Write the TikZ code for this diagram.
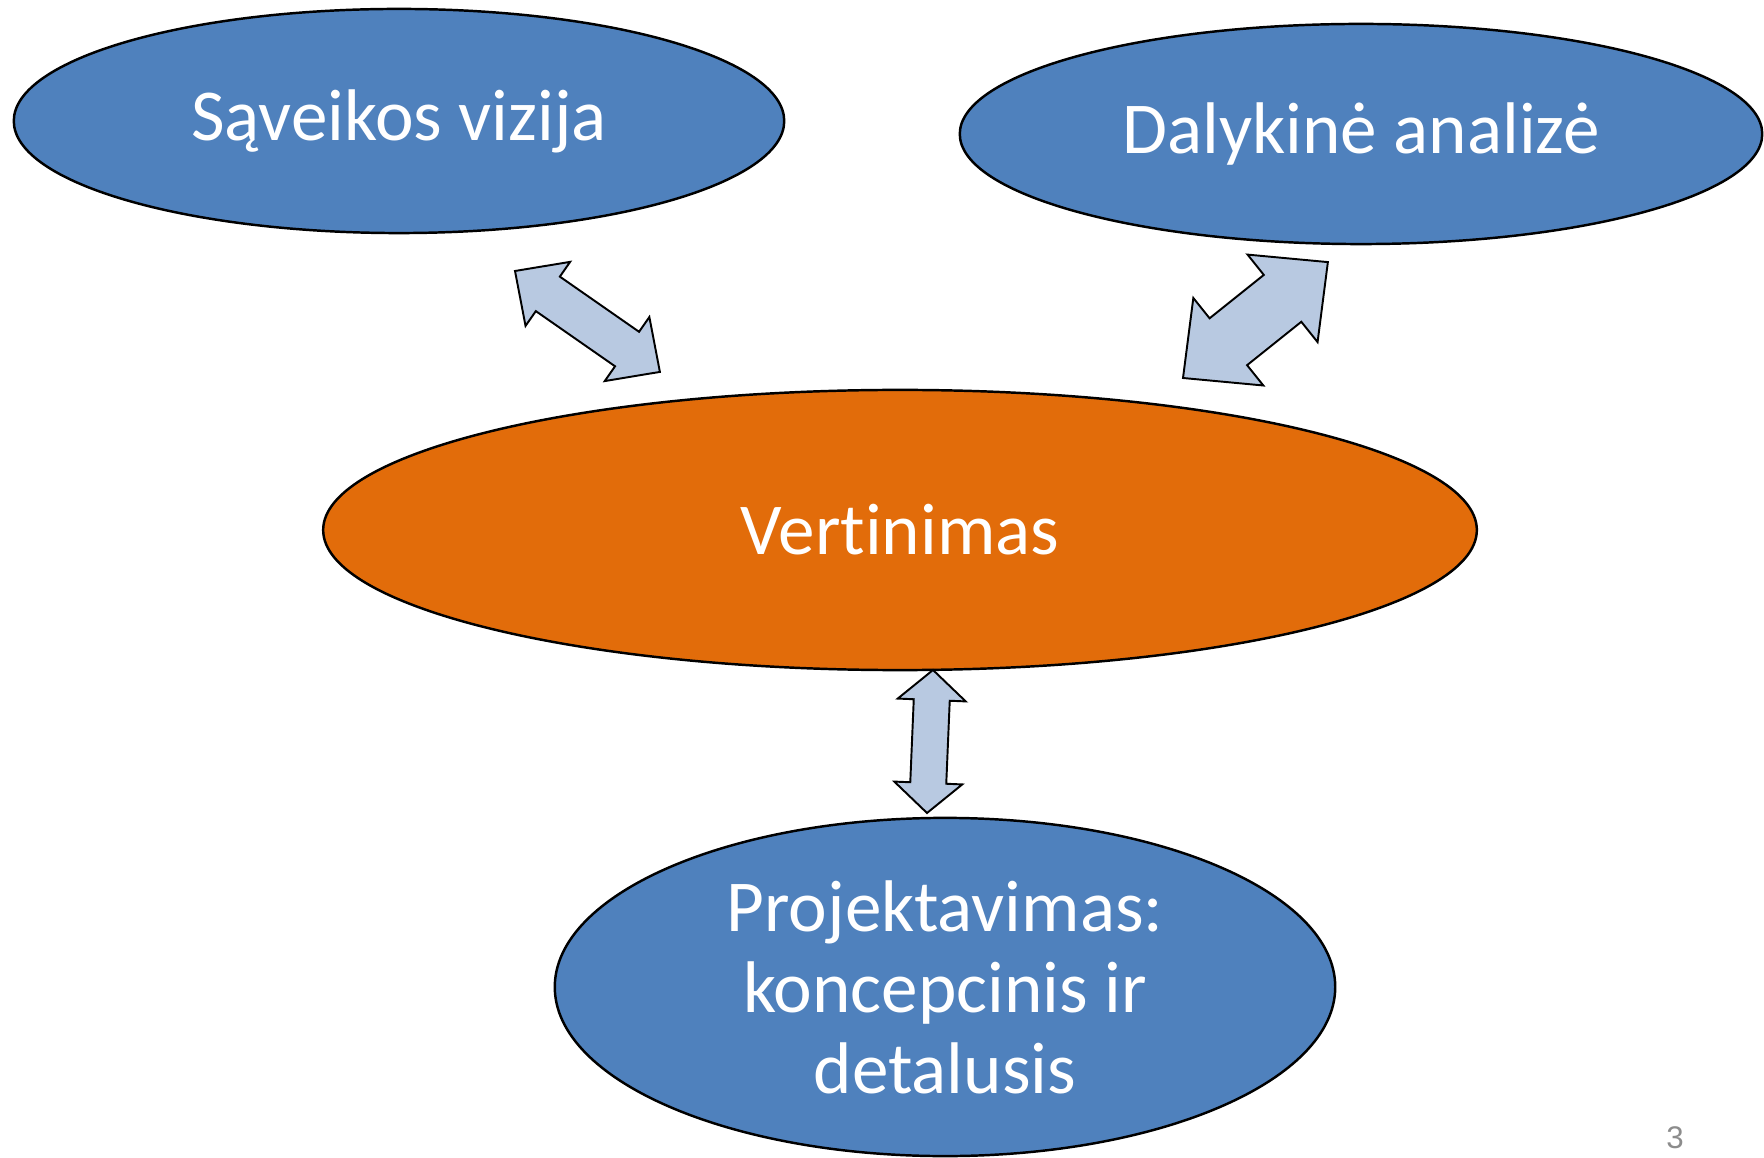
\documentclass[tikz,border=0pt]{standalone}
\usepackage{fontspec}
\setmainfont[Ligatures=NoCommon]{Carlito}
\newfontfamily\pagefont{Liberation Sans}
\usetikzlibrary{shapes.geometric,calc}

\definecolor{ovalblue}{HTML}{4F81BD}
\definecolor{ovalorange}{HTML}{E26C0A}
\definecolor{arrowfill}{HTML}{B8C9E1}
\definecolor{pagegray}{HTML}{8C8C8C}

% block arrow with two heads: from, to, shaft half width, head half width, head length
\newcommand{\dblarrow}[5]{%
  \draw[arrowbox] let \p1 = ($(#2)-(#1)$), \n1 = {atan2(\y1,\x1)}, \n2 = {veclen(\x1,\y1)} in
    [shift={(#1)}, rotate=\n1]
    (0pt,0pt) -- (#5,#4) -- (#5,#3) -- (\n2-#5,#3) -- (\n2-#5,#4) -- (\n2,0pt)
    -- (\n2-#5,-#4) -- (\n2-#5,-#3) -- (#5,-#3) -- (#5,-#4) -- cycle;
}

\begin{document}
\begin{tikzpicture}[
  x=0.01cm, y=0.01cm,
  bluenode/.style={draw, ellipse, fill=ovalblue, text=white, line width=0.7pt,
    inner sep=0pt, align=center, font=\fontsize{20.8}{23}\selectfont},
  orangenode/.style={bluenode, fill=ovalorange},
  arrowbox/.style={draw, fill=arrowfill, line width=0.55pt, line join=miter},
]
  \useasboundingbox (0,0) rectangle (1764,1157);

  \node[bluenode, minimum width=7.7cm, minimum height=2.24cm] (vizija) at (399,1036) {Sąveikos vizija};
  \node[bluenode, minimum width=8.02cm, minimum height=2.2cm] (analize) at (1361,1023) {Dalykinė analizė};
  \node[orangenode, minimum width=11.53cm, minimum height=2.8cm] (vertinimas) at (900,627) {Vertinimas};
  \node[bluenode, minimum width=7.8cm, minimum height=3.38cm] (projekt) at (945,170) {Projektavimas:\\koncepcinis ir\\detalusis};

  % arrow ends
  \coordinate (a1top) at (515,886);
  \coordinate (a1bot) at (660,785);
  \coordinate (a2top) at (1328,895);
  \coordinate (a2bot) at (1183,779);
  \coordinate (a3top) at (933,487);
  \coordinate (a3bot) at (927,344);

  \dblarrow{a1top}{a1bot}{0.21cm}{0.39cm}{0.40cm}
  \dblarrow{a2bot}{a2top}{0.30cm}{0.56cm}{0.58cm}
  \dblarrow{a3top}{a3bot}{0.18cm}{0.34cm}{0.30cm}

  \node[text=pagegray, font=\pagefont\fontsize{8.9}{10}\selectfont] (pagenum) at (1675,19) {3};
\end{tikzpicture}
\end{document}
